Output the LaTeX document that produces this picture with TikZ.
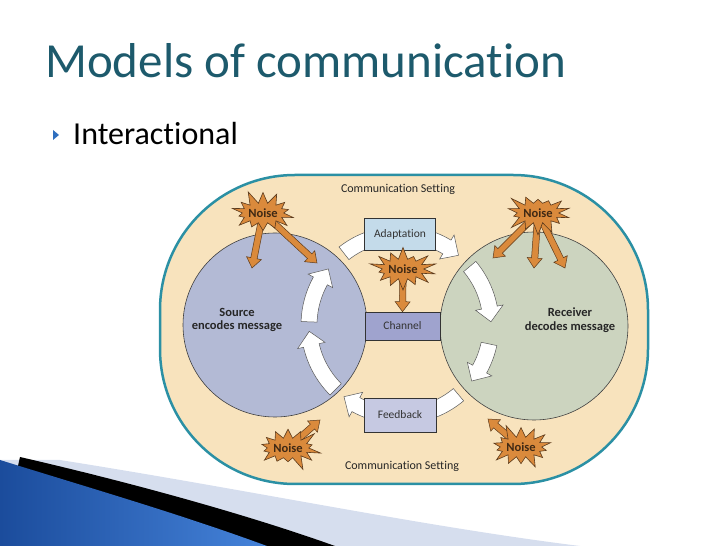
\documentclass[tikz,border=0pt]{standalone}
\usepackage{fontspec}
\setmainfont{Carlito}[Ligatures=NoCommon]
\usetikzlibrary{shapes.symbols,calc}

\definecolor{titleteal}{HTML}{1D5A6C}
\definecolor{bulletblue}{HTML}{2F6FBF}
\definecolor{settingfill}{HTML}{F8E3BD}
\definecolor{settingline}{HTML}{2B90A4}
\definecolor{sourcefill}{HTML}{B3BAD5}
\definecolor{receiverfill}{HTML}{CCD4BF}
\definecolor{channelfill}{HTML}{9FA3CE}
\definecolor{adaptfill}{HTML}{C4DBEA}
\definecolor{feedfill}{HTML}{C6C9E2}
\definecolor{noisefill}{HTML}{DA8A3C}
\definecolor{noiseline}{HTML}{5B3A1C}
\definecolor{swooshdark}{HTML}{1B4C9C}
\definecolor{swooshmid}{HTML}{4583DA}
\definecolor{swooshlight}{HTML}{D6DEEE}

\tikzset{
  person/.style={circle, draw=black!75, line width=0.6pt, minimum size=184pt, inner sep=0pt},
  persontext/.style={align=center, font=\bfseries\fontsize{12.5}{13.5}\selectfont, text=black!85},
  boxlabel/.style={draw=black!80, line width=0.6pt, font=\fontsize{11.5}{13}\selectfont, text=black!80},
  settinglabel/.style={font=\fontsize{12}{14}\selectfont, text=black!85},
  noise/.style={starburst, draw=noiseline, fill=noisefill, line width=0.6pt,
    minimum width=64pt, minimum height=48pt, starburst point height=14pt, starburst points=14, inner sep=0pt,
    font=\bfseries\fontsize{12.5}{14}\selectfont, text=noiseline!70!black},
  noiseshaft/.style={fill=noisefill, draw=noiseline, line width=0.5pt},
  flow/.style={fill=white, draw=black!65, line width=0.5pt},
}

% white flow arrow round the middle, clockwise: start angle, tip angle
\newcommand{\flowarc}[2]{%
  \filldraw[flow] (#1:99) arc[start angle=#1, end angle={#2+9}, radius=99]
    -- ({#2+9}:105) -- (#2:91) -- ({#2+9}:77) -- ({#2+9}:83)
    arc[start angle={#2+9}, end angle=#1, radius=83] -- cycle;}

% orange block arrow from #1 to #2
\newcommand{\noisearrow}[2]{%
  \path (#1) coordinate (na) (#2) coordinate (nb) ($(nb)!10pt!(na)$) coordinate (nh);
  \filldraw[noiseshaft] ($(na)!3.2pt!90:(nb)$) -- ($(nh)!3.2pt!-90:(na)$) -- ($(nh)!7.5pt!-90:(na)$)
    -- (nb) -- ($(nh)!7.5pt!90:(na)$) -- ($(nh)!3.2pt!90:(na)$) -- ($(na)!3.2pt!-90:(nb)$) -- cycle;}

\begin{document}
\begin{tikzpicture}[x=1pt,y=1pt]
\useasboundingbox (0,0) rectangle (728,546);

% slide decoration
\fill[swooshlight] (60,86) .. controls (250,56) and (420,20) .. (580,0) -- (0,0) -- (0,86) -- cycle;
\fill[black] (20,89) .. controls (120,66) and (240,34) .. (335,0) -- (0,0) -- cycle;
\shade[left color=swooshdark, right color=swooshmid] (0,86) .. controls (90,58) and (180,32) .. (267,0) -- (0,0) -- cycle;

\node[anchor=base west, inner sep=0pt, text=titleteal, font=\fontsize{49}{54}\selectfont] (title) at (45,468) {Models of communication};
\fill[bulletblue] (53,416) -- (59,411) -- (53,406) -- cycle;
\node[anchor=base west, inner sep=0pt, font=\fontsize{32}{36}\selectfont] (kind) at (73,401) {Interactional};

% communication setting
\draw[settingline, line width=2.5pt, fill=settingfill, rounded corners=135pt] (160,62) rectangle (648,371);
\node[settinglabel] (settop) at (398,357) {Communication Setting};
\node[settinglabel] (setbottom) at (402,80) {Communication Setting};

\node[person, fill=sourcefill] (source) at (275,221) {};
\node[person, fill=receiverfill, minimum size=188pt] (receiver) at (534,220) {};
\node[persontext] (sourcetext) at (237,226) {Source\\encodes message};
\node[persontext] (receivertext) at (570,226) {Receiver\\decodes message};

\begin{scope}[shift={(400,221)}]
\flowarc{128}{50}
\flowarc{40}{2}
\flowarc{-12}{-38}
\flowarc{-50}{-128}
\flowarc{-135}{-176}
\flowarc{178}{142}
\end{scope}

\node[boxlabel, fill=channelfill, minimum width=75pt, minimum height=28pt] (channel) at (402.5,220) {Channel};
\node[boxlabel, fill=adaptfill, minimum width=71pt, minimum height=32pt] (adaptation) at (400,312) {Adaptation};
\node[boxlabel, fill=feedfill, minimum width=72pt, minimum height=34pt] (feedback) at (400,131) {Feedback};

% noise
\coordinate (n1) at (263,333);
\coordinate (n2) at (538,333);
\coordinate (n3) at (403,277);
\coordinate (n4) at (288,98);
\coordinate (n5) at (521,99);
\coordinate (t1a) at (252,278);
\coordinate (t1b) at (317,283);
\coordinate (t2a) at (493,288);
\coordinate (t2b) at (534,278);
\coordinate (t2c) at (565,278);
\coordinate (t4) at (320,126);
\coordinate (t5) at (488,127);

\noisearrow{n1}{t1a}
\noisearrow{n1}{t1b}
\noisearrow{n2}{t2a}
\noisearrow{n2}{t2b}
\noisearrow{n2}{t2c}
\noisearrow{n3}{channel.north}
\noisearrow{n4}{t4}
\noisearrow{n5}{t5}

\node[noise, random starburst=11] (noise1) at (n1) {Noise};
\node[noise, random starburst=23] (noise2) at (n2) {Noise};
\node[noise, random starburst=37] (noise3) at (n3) {Noise};
\node[noise, random starburst=51] (noise4) at (n4) {Noise};
\node[noise, random starburst=64] (noise5) at (n5) {Noise};

\end{tikzpicture}
\end{document}
